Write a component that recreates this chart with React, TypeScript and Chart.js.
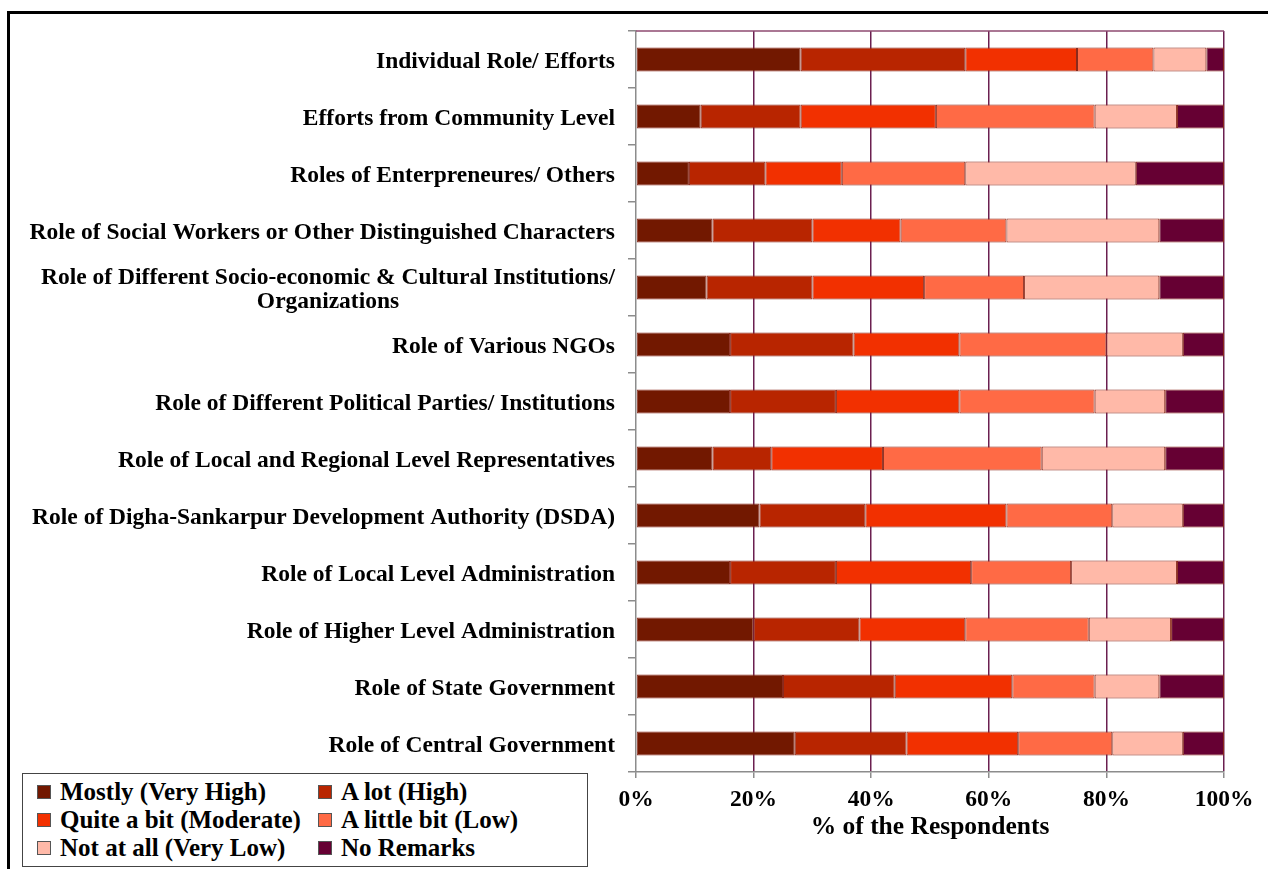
import React, { useEffect, useRef } from 'react';
import { Chart, registerables } from 'chart.js';

Chart.register(...registerables);

const categories: (string | string[])[] = [
  'Individual Role/ Efforts',
  'Efforts from Community Level',
  'Roles of Enterpreneures/ Others',
  'Role of Social Workers or Other Distinguished Characters',
  ['Role of Different Socio-economic & Cultural Institutions/', 'Organizations'],
  'Role of Various NGOs',
  'Role of Different Political Parties/ Institutions',
  'Role of Local and Regional Level Representatives',
  'Role of Digha-Sankarpur Development Authority (DSDA)',
  'Role of Local Level Administration',
  'Role of Higher Level Administration',
  'Role of State Government',
  'Role of Central Government',
];

const mostly = [28, 11, 9, 13, 12, 16, 16, 13, 21, 16, 20, 25, 27];
const aLot = [28, 17, 13, 17, 18, 21, 18, 10, 18, 18, 18, 19, 19];
const quiteABit = [19, 23, 13, 15, 19, 18, 21, 19, 24, 23, 18, 20, 19];
const aLittleBit = [13, 27, 21, 18, 17, 25, 23, 27, 18, 17, 21, 14, 16];
const notAtAll = [9, 14, 29, 26, 23, 13, 12, 21, 12, 18, 14, 11, 12];
const noRemarks = [3, 8, 15, 11, 11, 7, 10, 10, 7, 8, 9, 11, 7];

const seriesNames = [
  'Mostly (Very High)',
  'A lot (High)',
  'Quite a bit (Moderate)',
  'A little bit (Low)',
  'Not at all (Very Low)',
  'No Remarks',
];
const seriesColors = ['#721800', '#B82500', '#F23000', '#FF6A45', '#FFB9A8', '#660033'];
const seriesValues = [mostly, aLot, quiteABit, aLittleBit, notAtAll, noRemarks];

const xTickValues = [0, 20, 40, 60, 80, 100];
const xTitle = '% of the Respondents';

const FONT = '"Liberation Serif", "Times New Roman", serif';

const yLabelPlugin = {
  id: 'yLabelPlugin',
  afterDraw(chart: any) {
    const ctx = chart.ctx;
    const y = chart.scales.y;
    ctx.save();
    ctx.font = `bold 23.5px ${FONT}`;
    ctx.fillStyle = '#000';
    ctx.textBaseline = 'middle';
    const right = y.right - 21;
    const lh = 24;
    categories.forEach((lab, i) => {
      const cy = y.getPixelForTick(i) + 2;
      const lines = Array.isArray(lab) ? lab : [lab];
      const maxW = Math.max(...lines.map((l) => ctx.measureText(l).width));
      lines.forEach((l, j) => {
        const ly = cy + (j - (lines.length - 1) / 2) * lh;
        if (lines.length === 1) {
          ctx.textAlign = 'right';
          ctx.fillText(l, right, ly);
        } else {
          ctx.textAlign = 'center';
          ctx.fillText(l, right - maxW / 2, ly);
        }
      });
    });
    ctx.restore();
  },
};

const topBorderPlugin = {
  id: 'topBorderPlugin',
  afterDatasetsDraw(chart: any) {
    const { ctx, chartArea } = chart;
    ctx.save();
    ctx.strokeStyle = '#8E4A70';
    ctx.lineWidth = 1.5;
    ctx.beginPath();
    ctx.moveTo(chartArea.left, chartArea.top);
    ctx.lineTo(chartArea.right, chartArea.top);
    ctx.stroke();
    ctx.restore();
  },
};

export default function App() {
  const canvasRef = useRef<HTMLCanvasElement | null>(null);

  useEffect(() => {
    document.body.style.overflow = 'hidden';
    const canvas = canvasRef.current;
    if (!canvas) return;
    const chart = new Chart(canvas, {
      type: 'bar',
      data: {
        labels: categories as any,
        datasets: seriesNames.map((name, i) => ({
          label: name,
          data: seriesValues[i],
          backgroundColor: seriesColors[i],
          borderColor: '#8A2A1C',
          borderWidth: 1,
          borderSkipped: false,
          barPercentage: 0.42,
          categoryPercentage: 1,
        })),
      },
      options: {
        indexAxis: 'y',
        responsive: false,
        animation: false,
        layout: { padding: { top: 31, right: 44, left: 0, bottom: 0 } },
        plugins: {
          legend: { display: false },
          tooltip: { enabled: false },
        },
        scales: {
          x: {
            stacked: true,
            min: 0,
            max: 100,
            afterBuildTicks: (scale: any) => {
              scale.ticks = xTickValues.map((v) => ({ value: v }));
            },
            ticks: {
              callback: (v: any) => `${v}%`,
              color: '#000',
              padding: 8,
              maxRotation: 0,
              font: { family: FONT, size: 23.5, weight: 'bold' },
            },
            grid: {
              color: (c: any) => (c.index === 0 ? 'rgba(0,0,0,0)' : '#6B1F50'),
              lineWidth: 1.5,
              tickColor: '#8C8C8C',
              tickLength: 6,
            },
            border: { color: '#8C8C8C', width: 1.5 },
            title: {
              display: true,
              text: xTitle,
              color: '#000',
              font: { family: FONT, size: 25.5, weight: 'bold' },
              padding: { top: 0, bottom: 26 },
            },
            afterFit: (scale: any) => {
              scale.height = 97;
            },
          },
          y: {
            stacked: true,
            ticks: { display: false },
            grid: {
              display: true,
              drawOnChartArea: false,
              offset: true,
              tickLength: 8,
              color: '#8C8C8C',
              lineWidth: 1.5,
            },
            border: { color: '#8C8C8C', width: 1.5 },
            afterFit: (scale: any) => {
              scale.width = 636;
            },
          },
        },
      } as any,
      plugins: [yLabelPlugin, topBorderPlugin],
    });
    return () => chart.destroy();
  }, []);

  const legendItems = seriesNames.map((name, i) => {
    const col = i % 2;
    const row = Math.floor(i / 2);
    return (
      <div
        key={name}
        style={{
          position: 'absolute',
          left: 14 + col * 281,
          top: 4 + row * 28,
          height: 28,
          display: 'flex',
          alignItems: 'center',
          whiteSpace: 'nowrap',
        }}
      >
        <span
          style={{
            display: 'inline-block',
            width: 12,
            height: 12,
            background: seriesColors[i],
            border: '1px solid #555',
            marginRight: 9,
          }}
        />
        <span
          style={{
            fontFamily: FONT,
            fontWeight: 'bold',
            fontSize: 25,
            color: '#000',
            lineHeight: '28px',
          }}
        >
          {name}
        </span>
      </div>
    );
  });

  return (
    <div
      style={{
        position: 'fixed',
        left: 0,
        top: 0,
        width: 1268,
        height: 869,
        overflow: 'hidden',
        background: '#fff',
      }}
    >
      <div
        style={{
          position: 'absolute',
          left: 7,
          top: 11,
          width: 1320,
          height: 920,
          border: '3px solid #000',
          boxSizing: 'border-box',
        }}
      />
      <canvas
        ref={canvasRef}
        width={1268}
        height={869}
        style={{ position: 'absolute', left: 0, top: 0, width: 1268, height: 869 }}
      />
      <div
        style={{
          position: 'absolute',
          left: 22,
          top: 773,
          width: 566,
          height: 94,
          border: '1.5px solid #444',
          boxSizing: 'border-box',
          background: '#fff',
        }}
      >
        {legendItems}
      </div>
    </div>
  );
}
